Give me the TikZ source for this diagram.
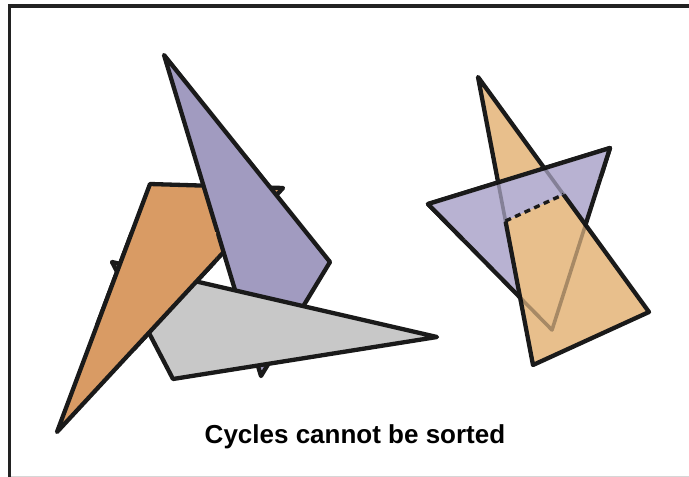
\documentclass[tikz,border=0pt]{standalone}
\usepackage{fontspec}
\setmainfont{Liberation Sans}
\usetikzlibrary{calc}
\definecolor{ink}{HTML}{1A1A1A}
\definecolor{orangeA}{HTML}{D99B64}
\definecolor{purpleA}{HTML}{A19BC0}
\definecolor{grayA}{HTML}{C8C8C8}
\definecolor{orangeB}{HTML}{E8BF8C}
\definecolor{purpleB}{HTML}{B8B2D2}
\definecolor{frameline}{HTML}{222222}
\definecolor{baseGray}{HTML}{D6D6D6}
\begin{document}
\begin{tikzpicture}[x=1pt,y=-1pt,
  poly/.style={draw=ink,line width=4.3pt,line join=round},
  hiddenedge/.style={draw=black,draw opacity=0.28,line width=3.6pt,line join=round},
  cutline/.style={draw=ink,line width=3.4pt,dash pattern=on 6pt off 4.5pt},
  caption/.style={font=\bfseries\fontsize{26}{30}\selectfont,anchor=base,inner sep=0pt}]
\useasboundingbox (0,0) rectangle (689,477);
% frame
\draw[draw=baseGray,line width=1.2pt] (8,476.4) -- (689,476.4);
\draw[draw=frameline,line width=3.6pt] (9.6,477) -- (9.6,6) -- (689,6);
% left cluster vertices
\coordinate (O1) at (150,184); \coordinate (O2) at (283,188); \coordinate (O3) at (57,432);
\coordinate (P1) at (164,55);  \coordinate (P2) at (330,262); \coordinate (P3) at (261,376);
\coordinate (G1) at (112,262); \coordinate (G2) at (437,337); \coordinate (G3) at (173,379);
\filldraw[poly,fill=orangeA] (O1) -- (O2) -- (O3) -- cycle;
\filldraw[poly,fill=purpleA] (P1) -- (P2) -- (P3) -- cycle;
\filldraw[poly,fill=grayA] (G1) -- (G2) -- (G3) -- cycle;
\begin{scope}
  \clip (95,232) rectangle (216,350);
  \filldraw[poly,fill=orangeA] (O1) -- (O2) -- (O3) -- cycle;
\end{scope}
% right cluster vertices
\coordinate (R1) at (478,77);  \coordinate (R2) at (649,312); \coordinate (R3) at (533,365);
\coordinate (Q1) at (428,204); \coordinate (Q2) at (610,148); \coordinate (Q3) at (552,330);
\coordinate (D1) at ($(R1)!0.5!(R3)$);
\coordinate (D2) at ($(R1)!0.5!(R2)$);
\coordinate (LA) at ($(D1)!-5!(D2)$);
\coordinate (LB) at ($(D2)!-5!(D1)$);
\filldraw[poly,fill=purpleB] (Q1) -- (Q2) -- (Q3) -- cycle;
\filldraw[poly,fill=orangeB] (R1) -- (R2) -- (R3) -- cycle;
\begin{scope}
  \clip (LA) -- (LB) -- (LB |- 0,0) -- (LA |- 0,0) -- cycle;
  \filldraw[poly,fill=purpleB] (Q1) -- (Q2) -- (Q3) -- cycle;
  \clip (Q1) -- (Q2) -- (Q3) -- cycle;
  \draw[hiddenedge] (R1) -- (R2) -- (R3) -- cycle;
\end{scope}
\begin{scope}
  \clip (LA) -- (LB) -- (LB |- 0,477) -- (LA |- 0,477) -- cycle;
  \clip (R1) -- (R2) -- (R3) -- cycle;
  \draw[hiddenedge] (Q1) -- (Q2) -- (Q3) -- cycle;
\end{scope}
\draw[cutline] (D1) -- (D2);
% caption
\node[caption] (cap) at (355,443) {Cycles cannot be sorted};
\end{tikzpicture}
\end{document}
